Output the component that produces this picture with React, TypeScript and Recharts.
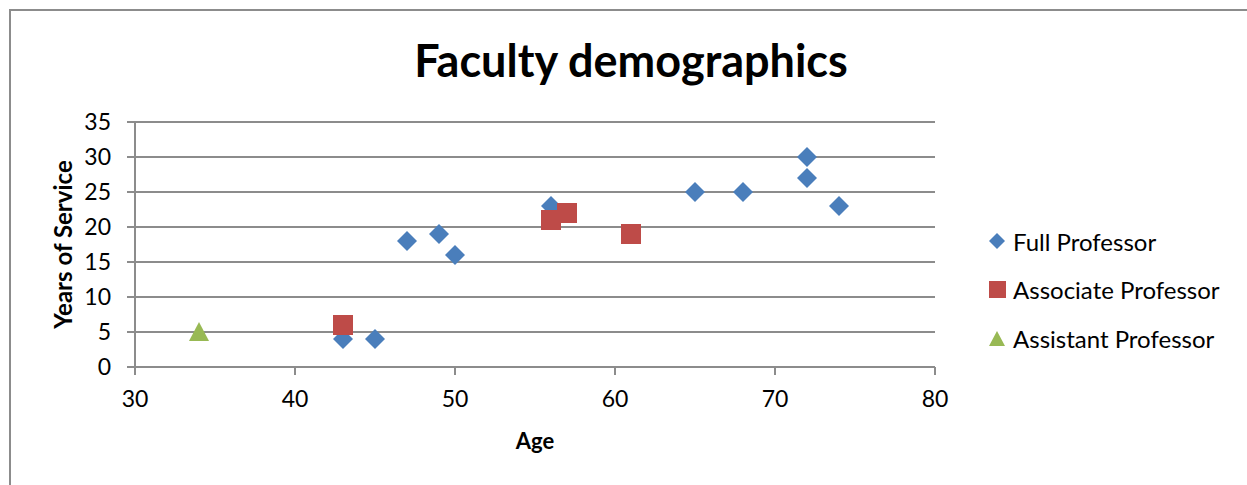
import { ScatterChart, Scatter, XAxis, YAxis, CartesianGrid, Legend } from 'recharts';

// ages and years of service
const fullAge = [43, 45, 47, 49, 50, 56, 65, 68, 72, 72, 74];
const fullYears = [4, 4, 18, 19, 16, 23, 25, 25, 30, 27, 23];

const assocAge = [43, 56, 57, 61];
const assocYears = [6, 21, 22, 19];

const asstAge = [34];
const asstYears = [5];

const xTicks = [30, 40, 50, 60, 70, 80];
const yTicks = [0, 5, 10, 15, 20, 25, 30, 35];

const seriesNames = ['Full Professor', 'Associate Professor', 'Assistant Professor'];
const seriesColors = ['#4a7ebb', '#be4b48', '#98b954'];

const FONT = 'Lato, "Open Sans", sans-serif';
const GRID = '#8c8c8c';

const zip = (xs: number[], ys: number[]) => xs.map((x, i) => ({ age: x, years: ys[i] }));

const Diamond = (props: any) => {
  const { cx, cy, fill } = props;
  const r = 10;
  return <path d={`M${cx},${cy - r}L${cx + r},${cy}L${cx},${cy + r}L${cx - r},${cy}Z`} fill={fill} />;
};

const Square = (props: any) => {
  const { cx, cy, fill } = props;
  const r = 10;
  return <rect x={cx - r} y={cy - r} width={r * 2} height={r * 2} fill={fill} />;
};

const Triangle = (props: any) => {
  const { cx, cy, fill } = props;
  return <path d={`M${cx},${cy - 10}L${cx + 10},${cy + 9}L${cx - 10},${cy + 9}Z`} fill={fill} />;
};

const legendMarks = [
  (c: string) => <path d="M8,0L16,8L8,16L0,8Z" fill={c} />,
  (c: string) => <rect x={0} y={0} width={17} height={17} fill={c} />,
  (c: string) => <path d="M8,1L16,16L0,16Z" fill={c} />,
];

const renderLegend = () => (
  <div style={{ fontFamily: FONT, fontSize: 24, color: '#000' }}>
    {seriesNames.map((n, i) => (
      <div key={n} style={{ display: 'flex', alignItems: 'center', height: 48.5 }}>
        <svg width={17} height={17} style={{ marginRight: 7 }}>{legendMarks[i](seriesColors[i])}</svg>
        <span>{n}</span>
      </div>
    ))}
  </div>
);

export default function App() {
  return (
    <div
      style={{
        position: 'absolute',
        left: 9,
        top: 9,
        width: 1238,
        height: 476,
        borderTop: `2px solid ${GRID}`,
        borderLeft: `2px solid ${GRID}`,
        background: '#fff',
      }}
    >
      <div
        style={{
          position: 'absolute',
          left: 0,
          width: 1240,
          top: 22,
          textAlign: 'center',
          fontFamily: FONT,
          fontWeight: 700,
          fontSize: 45,
          color: '#000',
        }}
      >
        Faculty demographics
      </div>
      <ScatterChart width={1238} height={474} margin={{ top: 111, right: 314, left: 30, bottom: 88 }}>
        <CartesianGrid vertical={false} stroke={GRID} strokeWidth={2} />
        <XAxis
          type="number"
          dataKey="age"
          domain={[30, 80]}
          ticks={xTicks}
          height={30}
          stroke={GRID}
          strokeWidth={2}
          tickSize={8}
          tick={{ fill: '#000', fontSize: 23, fontFamily: FONT, dy: 14 }}
          label={{ value: 'Age', position: 'bottom', offset: 36, fill: '#000', fontSize: 22, fontWeight: 700, fontFamily: FONT }}
        />
        <YAxis
          type="number"
          dataKey="years"
          domain={[0, 35]}
          ticks={yTicks}
          width={94}
          stroke={GRID}
          strokeWidth={2}
          tickSize={8}
          tick={{ fill: '#000', fontSize: 23, fontFamily: FONT, dx: -14 }}
          label={{
            content: (p: any) => {
              const vb = p.viewBox;
              const x = vb.x + 21;
              const y = vb.y + vb.height / 2;
              return (
                <text
                  x={x}
                  y={y}
                  transform={`rotate(-90, ${x}, ${y})`}
                  textAnchor="middle"
                  dominantBaseline="central"
                  fill="#000"
                  fontSize={24}
                  fontWeight={700}
                  fontFamily={FONT}
                >
                  Years of Service
                </text>
              );
            },
          }}
        />
        <Legend
          layout="horizontal"
          verticalAlign="middle"
          align="center"
          content={renderLegend}
          wrapperStyle={{ position: 'absolute', left: 978, top: 206, width: 260 }}
        />
        <Scatter name={seriesNames[0]} data={zip(fullAge, fullYears)} fill={seriesColors[0]} shape={Diamond} isAnimationActive={false} />
        <Scatter name={seriesNames[1]} data={zip(assocAge, assocYears)} fill={seriesColors[1]} shape={Square} isAnimationActive={false} />
        <Scatter name={seriesNames[2]} data={zip(asstAge, asstYears)} fill={seriesColors[2]} shape={Triangle} isAnimationActive={false} />
      </ScatterChart>
    </div>
  );
}
